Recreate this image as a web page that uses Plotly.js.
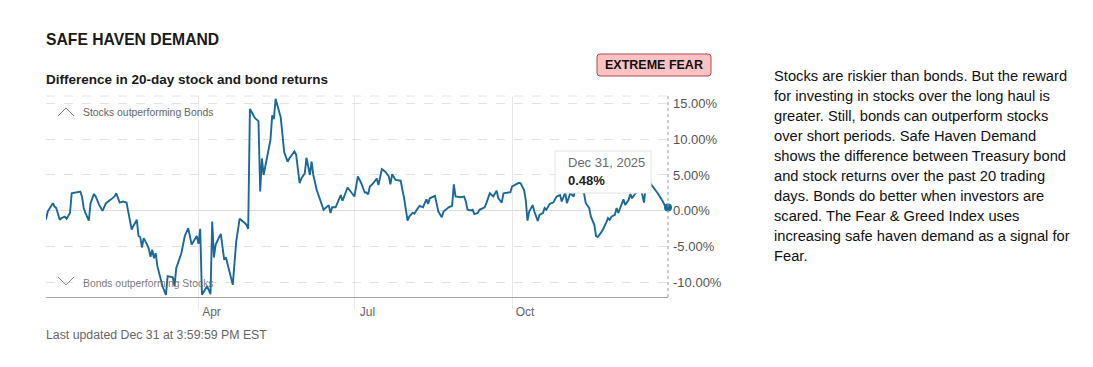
<!DOCTYPE html>
<html>
<head>
<meta charset="utf-8">
<script src="https://cdn.plot.ly/plotly-3.0.1.min.js"></script>
<style>
  html, body { margin: 0; padding: 0; background: #ffffff; }
  #chart { width: 1093px; height: 367px; }
</style>
</head>
<body>
<div id="chart"></div>
<script>
// ---- Data ----
const dates = [
  "2025-01-02","2025-01-03","2025-01-06","2025-01-07","2025-01-08","2025-01-10","2025-01-11","2025-01-13","2025-01-14","2025-01-16",
  "2025-01-17","2025-01-19","2025-01-22","2025-01-23","2025-01-24","2025-01-25","2025-01-27","2025-01-28","2025-01-30","2025-01-31",
  "2025-02-02","2025-02-04","2025-02-06","2025-02-09","2025-02-11","2025-02-12","2025-02-13","2025-02-14","2025-02-16","2025-02-18",
  "2025-02-19","2025-02-21","2025-02-22","2025-02-24","2025-02-25","2025-02-26","2025-02-27","2025-02-28","2025-03-02","2025-03-03",
  "2025-03-04","2025-03-05","2025-03-06","2025-03-07","2025-03-08","2025-03-10","2025-03-11","2025-03-13","2025-03-14","2025-03-17",
  "2025-03-18","2025-03-19","2025-03-22","2025-03-24","2025-03-26","2025-03-28","2025-03-31","2025-04-01","2025-04-02","2025-04-03",
  "2025-04-06","2025-04-08","2025-04-09","2025-04-10","2025-04-11","2025-04-14","2025-04-16","2025-04-17","2025-04-21","2025-04-23",
  "2025-04-25","2025-04-28","2025-04-29","2025-04-30","2025-05-01","2025-05-04","2025-05-06","2025-05-07","2025-05-08","2025-05-09",
  "2025-05-11","2025-05-13","2025-05-14","2025-05-15","2025-05-16","2025-05-17","2025-05-19","2025-05-21","2025-05-23","2025-05-24",
  "2025-05-27","2025-05-28","2025-05-30","2025-05-31","2025-06-02","2025-06-03","2025-06-05","2025-06-06","2025-06-07","2025-06-09",
  "2025-06-10","2025-06-11","2025-06-13","2025-06-16","2025-06-17","2025-06-18","2025-06-20","2025-06-23","2025-06-24","2025-06-27",
  "2025-06-29","2025-07-01","2025-07-03","2025-07-05","2025-07-07","2025-07-08","2025-07-09","2025-07-10","2025-07-12","2025-07-14",
  "2025-07-15","2025-07-17","2025-07-19","2025-07-21","2025-07-22","2025-07-23","2025-07-25","2025-07-28","2025-07-29","2025-07-30",
  "2025-08-01","2025-08-02","2025-08-04","2025-08-05","2025-08-06","2025-08-08","2025-08-10","2025-08-12","2025-08-13","2025-08-14",
  "2025-08-17","2025-08-18","2025-08-19","2025-08-21","2025-08-22","2025-08-25","2025-08-27","2025-08-28","2025-08-29","2025-09-01",
  "2025-09-03","2025-09-04","2025-09-05","2025-09-07","2025-09-08","2025-09-09","2025-09-11","2025-09-12","2025-09-15","2025-09-16",
  "2025-09-18","2025-09-20","2025-09-22","2025-09-23","2025-09-25","2025-09-26","2025-09-28","2025-09-30","2025-10-01","2025-10-03",
  "2025-10-05","2025-10-06","2025-10-08","2025-10-09","2025-10-10","2025-10-11","2025-10-13","2025-10-14","2025-10-16","2025-10-17",
  "2025-10-19","2025-10-20","2025-10-21","2025-10-23","2025-10-25","2025-10-27","2025-10-29","2025-10-30","2025-11-01","2025-11-02",
  "2025-11-04","2025-11-06","2025-11-07","2025-11-09","2025-11-12","2025-11-13","2025-11-15","2025-11-16","2025-11-18","2025-11-19",
  "2025-11-20","2025-11-22","2025-11-23","2025-11-25","2025-11-26","2025-11-27","2025-11-28","2025-11-30","2025-12-01","2025-12-02",
  "2025-12-04","2025-12-05","2025-12-06","2025-12-08","2025-12-09","2025-12-10","2025-12-12","2025-12-14","2025-12-15","2025-12-17",
  "2025-12-18","2025-12-20","2025-12-22","2025-12-25","2025-12-28","2025-12-29","2025-12-31"
];
const spread = [
  -1.2,-0.1,1.07,0.6,0.4,-1.25,-1.0,-0.8,-1.1,-0.3,
  2.45,2.55,2.7,2.0,0.4,-0.3,-1.35,1.07,2.36,2.0,
  0.83,0.0,1.07,1.6,2.0,2.45,1.85,1.15,1.3,1.15,
  -0.1,-2.6,-2.1,-1.25,-3.5,-3.65,-5.1,-3.8,-4.7,-5.3,
  -6.4,-5.4,-6.6,-5.9,-7.7,-9.35,-10.5,-11.7,-9.1,-9.25,
  -10.5,-8.0,-5.9,-3.5,-2.4,-4.7,-3.5,-4.6,-2.5,-11.7,
  -10.5,-11.6,-1.5,-6.5,-4.7,-3.2,-6.8,-6.5,-10.3,-4.3,
  -1.1,-1.7,-1.95,-2.5,14.2,12.9,12.5,2.7,7.3,5.0,
  7.5,9.9,13.3,12.8,15.6,14.8,13.0,8.2,6.85,7.3,
  8.3,7.8,3.85,4.5,5.2,7.4,5.0,6.85,5.0,2.9,
  2.2,1.3,0.15,0.8,-0.3,0.5,0.5,2.2,1.4,3.25,
  2.55,2.0,4.8,3.85,2.55,2.55,2.3,3.4,3.85,4.5,
  3.6,5.8,5.45,4.85,3.7,5.1,4.3,4.2,2.9,1.75,
  -1.35,-0.8,-0.25,-0.4,0.0,0.7,0.5,1.6,0.97,1.75,
  2.1,1.07,-0.1,-0.9,-0.1,0.5,0.7,3.7,2.0,1.9,
  2.0,1.3,0.15,0.05,0.15,-0.45,-0.3,0.15,0.5,1.07,
  2.45,2.0,2.8,1.75,1.15,2.45,2.55,2.6,3.4,3.7,
  3.9,3.85,2.9,1.5,-1.35,-0.1,0.8,-0.1,-1.4,-0.55,
  -0.3,0.4,0.15,0.97,1.15,2.0,2.2,1.3,2.55,1.07,
  2.45,2.0,3.85,3.2,2.45,1.07,0.4,-0.8,-1.95,-3.5,
  -3.65,-3.0,-2.6,-1.6,-1.0,-1.25,-0.8,-0.55,0.4,-0.3,
  0.97,1.6,0.83,1.5,2.36,1.75,2.45,2.9,3.3,1.15,
  3.4,4.0,3.4,2.45,1.3,0.8,0.48
];
const yTickValues = [-10, -5, 0, 5, 10, 15];
const yTickLabels = ["-10.00%", "-5.00%", "0.00%", "5.00%", "10.00%", "15.00%"];
const xTickValues = ["2025-04-01", "2025-07-01", "2025-10-01"];
const xTickLabels = ["Apr", "Jul", "Oct"];
const lastDate = dates[dates.length - 1];
const lastValue = spread[spread.length - 1];

const paragraph = [
  "Stocks are riskier than bonds. But the reward",
  "for investing in stocks over the long haul is",
  "greater. Still, bonds can outperform stocks",
  "over short periods. Safe Haven Demand",
  "shows the difference between Treasury bond",
  "and stock returns over the past 20 trading",
  "days. Bonds do better when investors are",
  "scared. The Fear & Greed Index uses",
  "increasing safe haven demand as a signal for",
  "Fear."
];

// ---- Layout geometry (pixels) ----
const W = 1093, H = 367;
const M = { l: 46, r: 425, t: 96, b: 70 };
const PW = W - M.l - M.r, PH = H - M.t - M.b;
const px = x => (x - M.l) / PW;
const py = y => (H - M.b - y) / PH;

const FONT = "Liberation Sans, Arial, Helvetica, sans-serif";
const LINE = "#1b6996";

const annotations = [];
const shapes = [];

function txt(x, y, text, size, color, opts) {
  annotations.push(Object.assign({
    xref: "paper", yref: "paper", x: px(x - 2), y: py(y),
    xanchor: "left", yanchor: "middle", showarrow: false,
    text: text, font: { family: FONT, size: size, color: color }
  }, opts || {}));
}

// headings
txt(46, 39, "<b>SAFE HAVEN DEMAND</b>", 15.7, "#1a1a1a");
txt(46, 79, "<b>Difference in 20-day stock and bond returns</b>", 13.5, "#1a1a1a");
txt(46, 335, "Last updated Dec 31 at 3:59:59 PM EST", 12.3, "#666666");

// badge
shapes.push({
  type: "path", xref: "paper", yref: "paper", layer: "above",
  path: (function () {
    const x0 = 597, x1 = 711, y0 = 54, y1 = 76, r = 3;
    const P = (x, y) => px(x) + "," + py(y);
    return "M" + P(x0 + r, y0) + " L" + P(x1 - r, y0) + " Q" + P(x1, y0) + " " + P(x1, y0 + r) +
      " L" + P(x1, y1 - r) + " Q" + P(x1, y1) + " " + P(x1 - r, y1) +
      " L" + P(x0 + r, y1) + " Q" + P(x0, y1) + " " + P(x0, y1 - r) +
      " L" + P(x0, y0 + r) + " Q" + P(x0, y0) + " " + P(x0 + r, y0) + " Z";
  })(),
  fillcolor: "#f9c3c3", line: { color: "#b5474b", width: 1 }
});
txt(656, 65, "<b>EXTREME FEAR</b>", 12.5, "#111111", { xanchor: "center" });

// in-plot labels with chevrons
shapes.push({ type: "path", xref: "paper", yref: "paper", layer: "above",
  path: "M" + px(58) + "," + py(116) + " L" + px(66) + "," + py(108) + " L" + px(74) + "," + py(116),
  line: { color: "#888888", width: 1 } });
shapes.push({ type: "path", xref: "paper", yref: "paper", layer: "above",
  path: "M" + px(58) + "," + py(277) + " L" + px(66) + "," + py(285) + " L" + px(74) + "," + py(277),
  line: { color: "#888888", width: 1 } });
txt(83, 113, "Stocks outperforming Bonds", 10.4, "#666666");
txt(83, 283, "Bonds outperforming Stocks", 10.4, "rgba(100,100,100,0.85)");

// top dashed border and right dotted border
shapes.push({ type: "line", xref: "paper", yref: "paper", x0: 0, x1: 1, y0: 1, y1: 1,
  line: { color: "#e4e4e4", width: 1, dash: "dash" }, layer: "below" });
shapes.push({ type: "line", xref: "paper", yref: "paper", x0: 1, x1: 1, y0: 0, y1: 1,
  line: { color: "#9a9a9a", width: 1, dash: "dot" }, layer: "above" });

// tooltip
shapes.push({ type: "rect", xref: "paper", yref: "paper", layer: "above",
  x0: px(555), x1: px(651), y0: py(151), y1: py(193),
  fillcolor: "#ffffff", line: { color: "#e2e2e2", width: 1 } });
txt(568, 162, "Dec 31, 2025", 13, "#6a6a6a");
txt(568, 180, "<b>0.48%</b>", 13, "#222222");

// right-hand paragraph
paragraph.forEach((line, i) => txt(774, 76 + i * 20, line, 14.7, "#111111"));

const traces = [
  {
    type: "scatter", mode: "lines", x: dates, y: spread,
    line: { color: LINE, width: 1.9 }, hoverinfo: "skip", cliponaxis: false
  },
  {
    type: "scatter", mode: "markers", x: [lastDate], y: [lastValue],
    marker: { color: LINE, size: 8 }, hoverinfo: "skip", cliponaxis: false
  }
];

const layout = {
  width: W, height: H,
  margin: M,
  paper_bgcolor: "#ffffff", plot_bgcolor: "#ffffff",
  showlegend: false, hovermode: false,
  font: { family: FONT },
  xaxis: {
    type: "date", range: ["2025-01-02", "2025-12-31"],
    tickvals: xTickValues, ticktext: xTickLabels,
    showgrid: true, gridcolor: "#e9e9e9", gridwidth: 1,
    ticks: "outside", ticklen: 12, tickcolor: "#e9e9e9", tickwidth: 1,
    ticklabelshift: 13, ticklabelstandoff: -8,
    showline: true, linecolor: "#a8a8a8", linewidth: 1,
    zeroline: false, fixedrange: true,
    tickfont: { family: FONT, size: 12, color: "#666666" }
  },
  yaxis: {
    range: [-12, 16], side: "right",
    tickvals: yTickValues, ticktext: yTickLabels,
    showgrid: true, gridcolor: "#e2e2e2", griddash: "dash", gridwidth: 1,
    zeroline: true, zerolinecolor: "#dddddd", zerolinewidth: 1,
    showline: false, ticks: "", ticklabelstandoff: 4,
    fixedrange: true,
    tickfont: { family: FONT, size: 13, color: "#555555" }
  },
  shapes: shapes,
  annotations: annotations
};

Plotly.newPlot("chart", traces, layout, { displayModeBar: false, staticPlot: true });
</script>
</body>
</html>
